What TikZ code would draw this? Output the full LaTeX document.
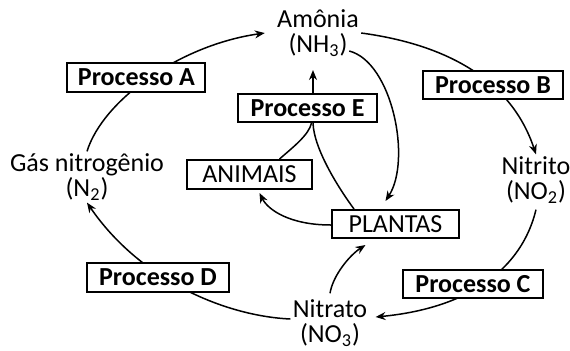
\documentclass[tikz,border=0pt]{standalone}
\usepackage{fontspec}
\setmainfont{Carlito}
\usetikzlibrary{arrows.meta,calc}
\begin{document}
\begin{tikzpicture}[x=0.5pt,y=-0.5pt,
  every node/.style={font=\fontsize{13}{12.5}\selectfont},
  lbl/.style={align=center,inner sep=1pt},
  proc/.style={draw,fill=white,line width=1pt,inner sep=0pt,font=\fontsize{13}{12.5}\selectfont\bfseries},
  box/.style={draw,fill=white,line width=1pt,inner sep=0pt},
  arr/.style={line width=0.75pt,-{Stealth[length=5pt,width=4pt]}},
  ln/.style={line width=0.75pt}]
\useasboundingbox (0,0) rectangle (570,350);
% text labels
\node[lbl] (amonia) at (318,33) {Amônia\\(NH\textsubscript{3})};
\node[lbl] (gas) at (87,177) {Gás nitrogênio\\(N\textsubscript{2})};
\node[lbl] (nitrito) at (536,180) {Nitrito\\(NO\textsubscript{2})};
\node[lbl] (nitrato) at (330,323) {Nitrato\\(NO\textsubscript{3})};
% inner boxes
\node[box,minimum width=62.5pt,minimum height=14.5pt] (animais) at (249.5,174.5) {ANIMAIS};
\node[box,minimum width=63.5pt,minimum height=14pt] (plantas) at (395.5,224) {PLANTAS};
\node[proc,minimum width=69.5pt,minimum height=14pt] (pE) at (307.5,108) {Processo E};
% outer cycle
\draw[arr] (gas.north) .. controls (103,100) and (180,45) .. ([xshift=-5pt]amonia.west);
\draw[arr] (amonia.east) .. controls (450,45) and (512,82) .. (nitrito.north);
\draw[arr] ([yshift=-2pt]nitrito.south) .. controls (522,268) and (470,308) .. ([xshift=3pt,yshift=3pt]nitrato.east);
\draw[arr] ([yshift=2pt]nitrato.west) .. controls (225,316) and (140,280) .. (gas.south);
% inner connections
\draw[arr] ([yshift=2pt]nitrato.north) .. controls (333,275) and (350,255) .. ([xshift=-15pt,yshift=-3pt]plantas.south);
\draw[arr] ([xshift=-6pt,yshift=-9pt]amonia.east) .. controls (392,62) and (412,160) .. ([xshift=-5pt,yshift=4pt]plantas.north);
\draw[arr] ([xshift=2.75pt]pE.north) -- ++(0,-23);
\draw[ln] ([xshift=11.5pt]plantas.north west) .. controls (340,190) and (314,150) .. ([xshift=2.75pt]pE.south);
\draw[ln] ([xshift=15pt]animais.north) .. controls (292,148) and (309,135) .. ([xshift=2pt]pE.south);
\draw[arr] ([yshift=-0.5pt]plantas.west) .. controls (290,225) and (268,210) .. ([xshift=5pt,yshift=-1.5pt]animais.south);
% process boxes on the cycle
\node[proc,minimum width=69pt,minimum height=14.5pt] (pA) at (136.5,77.5) {Processo A};
\node[proc,minimum width=70pt,minimum height=14pt] (pB) at (493,85) {Processo B};
\node[proc,minimum width=70pt,minimum height=14pt] (pC) at (473,284) {Processo C};
\node[proc,minimum width=71pt,minimum height=14.5pt] (pD) at (158,277.5) {Processo D};
\end{tikzpicture}
\end{document}
